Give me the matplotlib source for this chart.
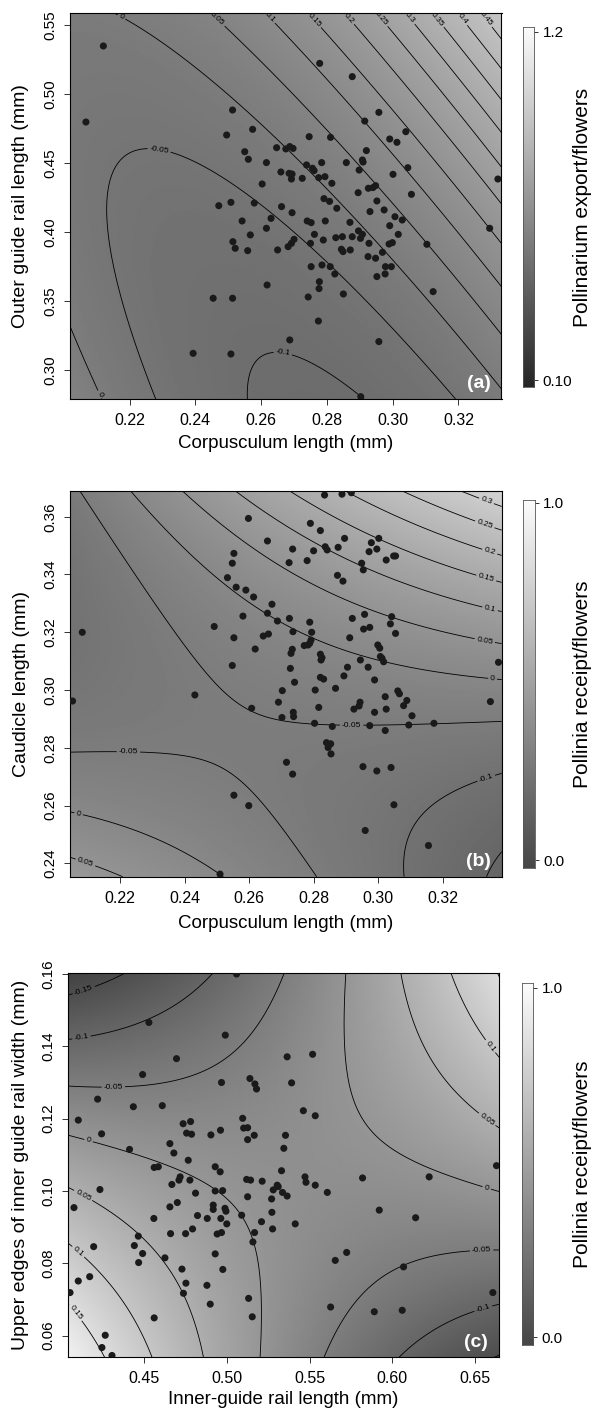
import numpy as N
import matplotlib
matplotlib.use('Agg')
from matplotlib import pyplot as P
from matplotlib.colors import LinearSegmentedColormap

P.rcParams['font.family'] = ['Liberation Sans', 'DejaVu Sans']

# z = c0 + c1*u + c2*v + c3*u^2 + c4*v^2 + c5*u*v, u and v scaled to the axis box
a_coef = [-0.0398, 0.1134, 0.1145, 0.1234, 0.0466, 0.1378]
b_coef = [-0.0360, 0.0401, 0.0900, -0.0094, 0.0929, 0.1571]
c_coef = [-0.0135, -0.0041, -0.0157, 0.0388, -0.0213, 0.1678]

# scatter points
a_x = [0.2120, 0.2067, 0.2513, 0.2574, 0.2495, 0.2647, 0.2675, 0.2687, 0.2697, 0.2550,
       0.2561, 0.2616, 0.2660, 0.2685, 0.2694, 0.2692, 0.2603, 0.2471, 0.2508, 0.2579,
       0.2662, 0.2694, 0.2542, 0.2630, 0.2616, 0.2514, 0.2521, 0.2567, 0.2559, 0.2650,
       0.2700, 0.2692, 0.2682, 0.2618, 0.2454, 0.2513, 0.2687, 0.2393, 0.2508,
       0.2778, 0.2877, 0.2958, 0.2915, 0.3040, 0.2746, 0.2811, 0.2991, 0.3013, 0.2920,
       0.2859, 0.2908, 0.2910, 0.2784, 0.2738, 0.2756, 0.2761, 0.2794, 0.2815, 0.2725,
       0.2775, 0.2898, 0.3001, 0.3046, 0.2926, 0.2940, 0.2948, 0.2895, 0.3057, 0.2791,
       0.2808, 0.2952, 0.2830, 0.2931, 0.2974, 0.3007, 0.3029, 0.2740, 0.2752, 0.2795,
       0.2870, 0.2991, 0.2762, 0.2827, 0.2789, 0.2847, 0.2896, 0.2908, 0.2877, 0.2902,
       0.3017, 0.2999, 0.2989, 0.3104, 0.2928, 0.2750, 0.2844, 0.2849, 0.2871, 0.2925,
       0.2948, 0.2969, 0.2752, 0.2785, 0.2810, 0.2824, 0.2978, 0.2996, 0.2977, 0.2952,
       0.2777, 0.2776, 0.2743, 0.2850, 0.3123, 0.2774, 0.2958, 0.3320, 0.3295, 0.2903]
a_y = [0.5348, 0.4797, 0.4884, 0.4744, 0.4703, 0.4611, 0.4602, 0.4619, 0.4606, 0.4582,
       0.4527, 0.4503, 0.4435, 0.4425, 0.4420, 0.4384, 0.4348, 0.4191, 0.4215, 0.4210,
       0.4184, 0.4140, 0.4080, 0.4099, 0.4027, 0.3930, 0.3882, 0.3979, 0.3865, 0.3870,
       0.3947, 0.3918, 0.3894, 0.3616, 0.3520, 0.3520, 0.3218, 0.3121, 0.3116,
       0.5222, 0.5126, 0.4867, 0.4804, 0.4727, 0.4691, 0.4686, 0.4674, 0.4650, 0.4590,
       0.4503, 0.4522, 0.4507, 0.4503, 0.4486, 0.4462, 0.4445, 0.4401, 0.4353, 0.4389,
       0.4394, 0.4449, 0.4418, 0.4466, 0.4317, 0.4322, 0.4336, 0.4285, 0.4273, 0.4242,
       0.4222, 0.4225, 0.4172, 0.4148, 0.4160, 0.4111, 0.4087, 0.4080, 0.4068, 0.4080,
       0.4070, 0.4046, 0.3983, 0.3959, 0.3942, 0.3966, 0.4008, 0.3983, 0.3966, 0.3954,
       0.3983, 0.3923, 0.3913, 0.3911, 0.3918, 0.3918, 0.3875, 0.3858, 0.3870, 0.3822,
       0.3810, 0.3853, 0.3749, 0.3761, 0.3749, 0.3696, 0.3749, 0.3749, 0.3696, 0.3677,
       0.3640, 0.3590, 0.3529, 0.3551, 0.3568, 0.3355, 0.3206, 0.4384, 0.4027, 0.2807]

b_x = [0.2053, 0.2083, 0.2432, 0.2492, 0.2598, 0.2657, 0.2553, 0.2548, 0.2533, 0.2560,
       0.2590, 0.2614, 0.2581, 0.2553, 0.2619, 0.2644, 0.2660, 0.2671, 0.2657, 0.2688,
       0.2735, 0.2724, 0.2725, 0.2736, 0.2734, 0.2730, 0.2728, 0.2741, 0.2548, 0.2703,
       0.2691, 0.2608, 0.2702, 0.2737, 0.2738, 0.2716, 0.2735, 0.2553, 0.2599, 0.2510,
       0.2834, 0.2888, 0.2917, 0.2790, 0.2821, 0.2896, 0.2979, 0.3002, 0.2876, 0.2836,
       0.2842, 0.2800, 0.2972, 0.2996, 0.3048, 0.3054, 0.3025, 0.2780, 0.2949, 0.2954,
       0.2874, 0.2891, 0.2920, 0.2958, 0.3042, 0.2788, 0.2794, 0.2955, 0.2974, 0.3038,
       0.3054, 0.2912, 0.2792, 0.2788, 0.2783, 0.2771, 0.2999, 0.3005, 0.2821, 0.2826,
       0.2823, 0.3007, 0.3012, 0.3017, 0.2945, 0.2905, 0.2969, 0.2894, 0.2821, 0.2831,
       0.2805, 0.2868, 0.2989, 0.3061, 0.3066, 0.3022, 0.3089, 0.3079, 0.3025, 0.2989,
       0.2944, 0.2941, 0.2925, 0.3105, 0.2816, 0.2803, 0.2858, 0.2974, 0.3022, 0.3095,
       0.3173, 0.3348, 0.3373, 0.2840, 0.2853, 0.2845, 0.2854, 0.2953, 0.2996, 0.3040,
       0.3049, 0.2960, 0.3156]
b_y = [0.2962, 0.3200, 0.2983, 0.3220, 0.3594, 0.3516, 0.3473, 0.3439, 0.3389, 0.3356,
       0.3346, 0.3322, 0.3256, 0.3181, 0.3142, 0.3187, 0.3194, 0.3297, 0.3266, 0.3239,
       0.3488, 0.3441, 0.3248, 0.3202, 0.3141, 0.3127, 0.3075, 0.3027, 0.3085, 0.2998,
       0.2958, 0.2937, 0.2905, 0.2923, 0.2908, 0.2750, 0.2709, 0.2636, 0.2600, 0.2363,
       0.3675, 0.3678, 0.3683, 0.3577, 0.3552, 0.3525, 0.3510, 0.3525, 0.3494, 0.3496,
       0.3485, 0.3482, 0.3479, 0.3488, 0.3464, 0.3464, 0.3450, 0.3448, 0.3439, 0.3416,
       0.3397, 0.3377, 0.3248, 0.3262, 0.3254, 0.3235, 0.3200, 0.3211, 0.3217, 0.3229,
       0.3196, 0.3181, 0.3173, 0.3162, 0.3156, 0.3154, 0.3156, 0.3145, 0.3124, 0.3112,
       0.3104, 0.3116, 0.3110, 0.3098, 0.3104, 0.3079, 0.3079, 0.3049, 0.3044, 0.3038,
       0.3000, 0.3006, 0.3035, 0.2997, 0.2987, 0.2977, 0.2964, 0.2946, 0.2934, 0.2923,
       0.2958, 0.2945, 0.2934, 0.2911, 0.2940, 0.2885, 0.2874, 0.2877, 0.2860, 0.2879,
       0.2885, 0.2960, 0.3096, 0.2818, 0.2814, 0.2801, 0.2779, 0.2735, 0.2720, 0.2732,
       0.2603, 0.2514, 0.2462]

c_x = [0.5058, 0.4528, 0.4990, 0.4695, 0.4490, 0.4967, 0.5139, 0.5169, 0.5179, 0.5364,
       0.5391, 0.4218, 0.4434, 0.4609, 0.4101, 0.4780, 0.4735, 0.5095, 0.5101, 0.5125,
       0.4242, 0.4756, 0.4786, 0.4903, 0.4961, 0.5165, 0.5125, 0.5354, 0.4655, 0.4411,
       0.4679, 0.5344, 0.4766, 0.4560, 0.4585, 0.4929, 0.4959, 0.4717, 0.4710, 0.4776,
       0.5330, 0.5119, 0.5143, 0.5213, 0.4667, 0.4232, 0.4974, 0.4929, 0.4810, 0.5304,
       0.5280, 0.5310, 0.5336, 0.5364, 0.5270, 0.5125, 0.4075, 0.4700, 0.4655, 0.4917,
       0.4917, 0.4988, 0.4994, 0.4822, 0.4881, 0.4963, 0.4558, 0.5089, 0.5272, 0.5209,
       0.5276, 0.4999, 0.4792, 0.4941, 0.4967, 0.4659, 0.4750, 0.5167, 0.5157, 0.4464,
       0.5413, 0.4440, 0.4194, 0.4490, 0.4929, 0.4625, 0.4466, 0.4975, 0.4728, 0.4170,
       0.4101, 0.4752, 0.4879, 0.4737, 0.4051, 0.4899, 0.5131, 0.4560, 0.5153, 0.4264,
       0.4244, 0.4305,
       0.5518, 0.5462, 0.5534, 0.5472, 0.5478, 0.5534, 0.5607, 0.5820, 0.6223, 0.6630,
       0.5921, 0.6141, 0.5724, 0.5655, 0.6068, 0.5627, 0.5891, 0.6060, 0.6608]
c_y = [0.1600, 0.1466, 0.1431, 0.1366, 0.1322, 0.1300, 0.1311, 0.1296, 0.1282, 0.1371,
       0.1299, 0.1254, 0.1233, 0.1236, 0.1196, 0.1192, 0.1186, 0.1201, 0.1174, 0.1175,
       0.1158, 0.1160, 0.1157, 0.1155, 0.1168, 0.1154, 0.1142, 0.1154, 0.1131, 0.1115,
       0.1105, 0.1118, 0.1085, 0.1065, 0.1067, 0.1067, 0.1053, 0.1039, 0.1030, 0.1030,
       0.1056, 0.1032, 0.1030, 0.1027, 0.1018, 0.1004, 0.1001, 0.1000, 0.0994, 0.1016,
       0.1003, 0.1012, 0.0996, 0.0986, 0.0978, 0.0984, 0.0954, 0.0968, 0.0956, 0.0961,
       0.0949, 0.0952, 0.0944, 0.0932, 0.0924, 0.0924, 0.0924, 0.0933, 0.0941, 0.0915,
       0.0895, 0.0909, 0.0895, 0.0881, 0.0885, 0.0882, 0.0882, 0.0885, 0.0859, 0.0875,
       0.0909, 0.0849, 0.0846, 0.0827, 0.0826, 0.0815, 0.0802, 0.0783, 0.0784, 0.0763,
       0.0751, 0.0745, 0.0739, 0.0717, 0.0719, 0.0687, 0.0703, 0.0649, 0.0652, 0.0601,
       0.0567, 0.0545,
       0.1378, 0.1222, 0.1208, 0.1039, 0.1024, 0.1016, 0.0996, 0.1036, 0.1039, 0.1070,
       0.0947, 0.0926, 0.0830, 0.0808, 0.0790, 0.0679, 0.0666, 0.0670, 0.0719]

# ticks
a_xticks = [0.22, 0.24, 0.26, 0.28, 0.30, 0.32]
a_yticks = [0.30, 0.35, 0.40, 0.45, 0.50, 0.55]
b_xticks = [0.22, 0.24, 0.26, 0.28, 0.30, 0.32]
b_yticks = [0.24, 0.26, 0.28, 0.30, 0.32, 0.34, 0.36]
c_xticks = [0.45, 0.50, 0.55, 0.60, 0.65]
c_yticks = [0.06, 0.08, 0.10, 0.12, 0.14, 0.16]
levels = N.round(N.arange(-0.15, 0.501, 0.05), 2)

W, H = 593.0, 1409.0
fig = P.figure(figsize=(W / 100, H / 100), dpi=100)


def rect(l, t, r, b):
    return [l / W, 1 - b / H, (r - l) / W, (b - t) / H]


def panel(box, xlim, ylim, centre, coef, vmin, vmax, px, py, xt, yt, lab_pos, tag):
    xm, xh, ym, yh = centre
    gx = N.linspace(xlim[0], xlim[1], 300)
    gy = N.linspace(ylim[0], ylim[1], 300)
    X, Y = N.meshgrid(gx, gy)
    u = (X - xm) / xh
    v = (Y - ym) / yh
    Z = coef[0] + coef[1] * u + coef[2] * v + coef[3] * u * u + coef[4] * v * v + coef[5] * u * v
    ax = fig.add_axes(rect(*box))
    ax.imshow(Z, extent=[xlim[0], xlim[1], ylim[0], ylim[1]], origin='lower', aspect='auto',
              cmap='gray', vmin=vmin, vmax=vmax, interpolation='bilinear')
    cs = ax.contour(X, Y, Z, levels=levels, colors='k', linewidths=0.6,
                    linestyles='solid', negative_linestyles='solid')
    ax.set_xlim(xlim)
    ax.set_ylim(ylim)
    ax.clabel(cs, manual=lab_pos, fmt=lambda val: '%g' % (round(val, 2) + 0.0),
              fontsize=6, inline=True, inline_spacing=2)
    ax.scatter(px, py, s=26, color='#1a1a1a', edgecolors='none', zorder=3)
    ax.set_xticks(xt)
    ax.set_xticklabels(['%.2f' % t for t in xt])
    ax.set_yticks(yt)
    ax.set_yticklabels(['%.2f' % t for t in yt], rotation=90, va='center')
    ax.tick_params(axis='x', direction='out', length=4, width=0.7, labelsize=11.5, pad=6,
                   color='#333333')
    ax.tick_params(axis='y', direction='out', length=4, width=0.7, labelsize=11, pad=5,
                   color='#333333')
    for s in ax.spines.values():
        s.set_linewidth(0.8)
    ax.text(1 - 11 / (box[2] - box[0]), 15 / (box[3] - box[1]), tag, transform=ax.transAxes,
            ha='right', va='center', color='white', fontsize=14, fontweight='bold')
    return ax


def colourbar(box, lim, ticks, labels, lo):
    cax = fig.add_axes(rect(*box))
    cmap = LinearSegmentedColormap.from_list('cb', [lo, '#fcfcfc'])
    grad = N.linspace(0, 1, 256).reshape(-1, 1)
    cax.imshow(grad, extent=[0, 1, lim[0], lim[1]], origin='lower', aspect='auto', cmap=cmap)
    cax.set_ylim(lim)
    cax.set_xticks([])
    cax.yaxis.tick_right()
    cax.set_yticks(ticks)
    cax.set_yticklabels(labels)
    cax.tick_params(axis='y', direction='out', length=3, width=0.7, labelsize=11, pad=3,
                    color='#333333')
    for s in cax.spines.values():
        s.set_linewidth(0.6)
        s.set_color('#555555')


# panel (a)
a_lab = [(0.2164, 0.551), (0.2453, 0.551), (0.2605, 0.551), (0.2748, 0.551), (0.2848, 0.551),
         (0.2946, 0.551), (0.3031, 0.551), (0.3119, 0.551), (0.3195, 0.551), (0.3265, 0.551),
         (0.2283, 0.45), (0.2666, 0.3123), (0.2115, 0.283)]
panel((69.5, 13, 501.5, 399), (0.2017, 0.3331), (0.279, 0.5587), (0.267, 0.066, 0.419, 0.14),
      a_coef, -0.84, 0.88, a_x, a_y, a_xticks, a_yticks, a_lab, '(a)')
colourbar((522.7, 26.7, 534.3, 386.7), (0.079, 1.216), [0.10, 1.2], ['0.10', '1.2'], '#262626')
fig.text(285.5 / W, 1 - 444 / H, 'Corpusculum length (mm)', ha='center', va='center', fontsize=13.5)
fig.text(21 / W, 1 - 206 / H, 'Outer guide rail length (mm)', ha='center', va='center',
         rotation=90, fontsize=14)
fig.text(583 / W, 1 - 207 / H, 'Pollinarium export/flowers', ha='center', va='center',
         rotation=90, fontsize=15)

# panel (b)
b_lab = [(0.3335, 0.3652), (0.3330, 0.3571), (0.3346, 0.3479), (0.3335, 0.3387), (0.3346, 0.3277),
         (0.3330, 0.3168), (0.3355, 0.3042), (0.2918, 0.2873), (0.3335, 0.2695),
         (0.2226, 0.2775), (0.2071, 0.2568), (0.2092, 0.2401)]
panel((70, 490.7, 501.7, 876.7), (0.2045, 0.3383), (0.2354, 0.369), (0.2714, 0.0669, 0.3022, 0.0668),
      b_coef, -0.613, 0.536, b_x, b_y, b_xticks, b_yticks, b_lab, '(b)')
colourbar((523.3, 500, 535, 868), (-0.0224, 1.0084), [0.0, 1.0], ['0.0', '1.0'], '#474747')
fig.text(285.8 / W, 1 - 924 / H, 'Corpusculum length (mm)', ha='center', va='center', fontsize=13.5)
fig.text(21 / W, 1 - 684 / H, 'Caudicle length (mm)', ha='center', va='center',
         rotation=90, fontsize=14)
fig.text(583 / W, 1 - 684 / H, 'Pollinia receipt/flowers', ha='center', va='center',
         rotation=90, fontsize=15)

# panel (c)
c_lab = [(0.4131, 0.156), (0.4121, 0.1422), (0.4313, 0.1284), (0.4161, 0.1136), (0.4121, 0.098),
         (0.4101, 0.0832), (0.4091, 0.0666), (0.659, 0.1399), (0.657, 0.1196), (0.657, 0.1007),
         (0.654, 0.0837), (0.655, 0.0675)]
panel((67.7, 973.3, 499.3, 1357.3), (0.4037, 0.6647), (0.054, 0.1602), (0.5342, 0.1305, 0.1071, 0.0531),
      c_coef, -0.314, 0.221, c_x, c_y, c_xticks, c_yticks, c_lab, '(c)')
colourbar((521.7, 983, 533.3, 1345), (-0.0229, 1.0143), [0.0, 1.0], ['0.0', '1.0'], '#474747')
fig.text(283.5 / W, 1 - 1399 / H, 'Inner-guide rail length (mm)', ha='center', va='center', fontsize=13.5)
fig.text(21 / W, 1 - 1165 / H, 'Upper edges of inner guide rail width (mm)', ha='center', va='center',
         rotation=90, fontsize=14)
fig.text(583 / W, 1 - 1164 / H, 'Pollinia receipt/flowers', ha='center', va='center',
         rotation=90, fontsize=15)

fig.savefig('out.png', dpi=100)
